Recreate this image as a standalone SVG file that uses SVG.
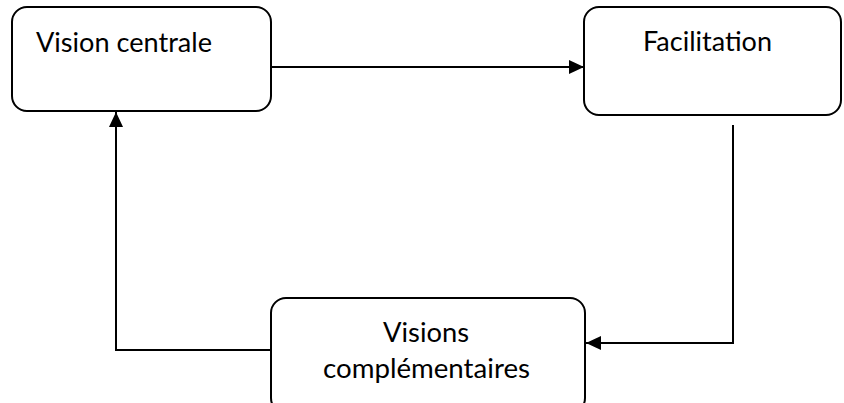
<svg xmlns="http://www.w3.org/2000/svg" width="844" height="403" viewBox="0 0 844 403">
<style>
.box{fill:#fff;stroke:#000;stroke-width:2}
.lbl{font-family:Lato,"Open Sans","Liberation Sans",sans-serif;font-size:27px;fill:#000}
.ln{fill:none;stroke:#000;stroke-width:2}
</style>
<defs>
<marker id="ah" viewBox="0 0 15 14" refX="15" refY="7" markerWidth="15" markerHeight="14" markerUnits="userSpaceOnUse" orient="auto">
<path d="M0,0 L15,7 L0,14 z" fill="#000"/>
</marker>
</defs>
<rect width="844" height="403" fill="#fff"/>
<g id="connectors">
<path class="ln" d="M270,67 H584" marker-end="url(#ah)"/>
<path class="ln" d="M733,125 V343 H586" marker-end="url(#ah)"/>
<path class="ln" d="M271,350 H116 V112" marker-end="url(#ah)"/>
</g>
<g id="node-vision-centrale">
<rect class="box" x="12" y="7" width="259" height="104" rx="15"/>
<text class="lbl" x="36" y="52" textLength="176" lengthAdjust="spacingAndGlyphs">Vision centrale</text>
</g>
<g id="node-facilitation">
<rect class="box" x="584" y="7" width="257" height="108" rx="15"/>
<text class="lbl" x="643" y="51" textLength="129" lengthAdjust="spacingAndGlyphs">Facilitation</text>
</g>
<g id="node-visions-complementaires">
<rect class="box" x="271" y="298" width="314" height="115" rx="15"/>
<text class="lbl" x="383" y="342" textLength="86" lengthAdjust="spacingAndGlyphs">Visions</text>
<text class="lbl" x="323" y="378" textLength="207" lengthAdjust="spacingAndGlyphs">complémentaires</text>
</g>
</svg>
